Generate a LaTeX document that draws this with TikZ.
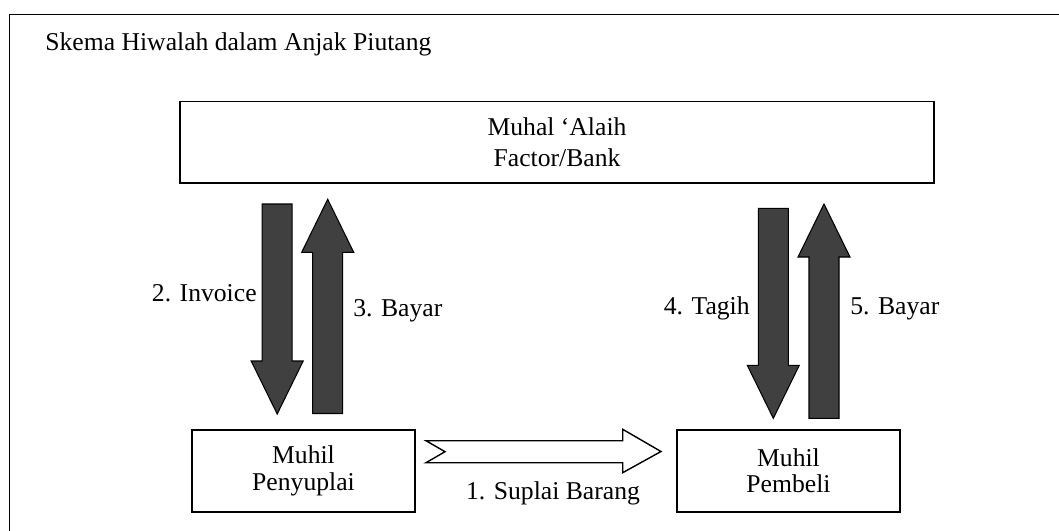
\documentclass[tikz,border=0pt]{standalone}
\usepackage{fontspec}
\setmainfont{Liberation Serif}
\usepackage{xcolor}
\definecolor{arrowGray}{RGB}{64,64,64}

% dark block arrows: centre x, tail y, tip y
\newcommand{\fatdown}[3]{%
  \draw[fatarrow] ({#1-15},{#2}) -- ({#1+15},{#2}) -- ({#1+15},{#3-53}) -- ({#1+26},{#3-53})
    -- ({#1},{#3}) -- ({#1-26},{#3-53}) -- ({#1-15},{#3-53}) -- cycle;}
\newcommand{\fatup}[3]{%
  \draw[fatarrow] ({#1-15},{#2}) -- ({#1+15},{#2}) -- ({#1+15},{#3+53}) -- ({#1+26},{#3+53})
    -- ({#1},{#3}) -- ({#1-26},{#3+53}) -- ({#1-15},{#3+53}) -- cycle;}

\begin{document}
\begin{tikzpicture}[x=0.02cm,y=-0.02cm,
    party/.style={draw,line width=0.8pt,align=center,minimum width=4.46cm,minimum height=1.64cm,
      font=\fontsize{14.6}{15}\selectfont},
    fatarrow/.style={draw=black,fill=arrowGray,line width=0.6pt,line join=miter},
    lbl/.style={font=\fontsize{14.6}{17}\selectfont,inner sep=0pt}]
  \useasboundingbox (0,0) rectangle (1059,531);
  % Frame
  \draw[line width=1.1pt] (9.5,600) -- (9.5,14.5) -- (1100,14.5);
  \node[lbl,anchor=base west] (title) at (45,50) {Skema Hiwalah dalam Anjak Piutang};

  % Factor
  \node[party,minimum width=15.08cm,minimum height=1.63cm,font=\fontsize{14.6}{17.4}\selectfont] (bank) at (557,142.4) {Muhal ‘Alaih\\Factor/Bank};

  % Seller and buyer
  \node[party] (seller) at (303.5,471) {Muhil\\Penyuplai};
  \node[party] (buyer) at (788.5,471) {Muhil\\Pembeli};

  % Supply of goods
  \draw[line width=0.8pt,fill=white] (426,440.7) -- (622.7,440.7) -- (622.7,429.3) -- (661,451.5)
    -- (622.7,472.7) -- (622.7,462.7) -- (426,462.7) -- (445,451.7) -- cycle;
  \node[lbl,anchor=base] (supply) at (553,499) {1. Suplai Barang};

  % Seller side
  \fatdown{277.2}{204}{414}
  \fatup{327.7}{413.5}{199.3}
  \node[lbl,anchor=base east] (invoice) at (257,301.7) {2. Invoice};
  \node[lbl,anchor=base west] (pay1) at (353,316) {3. Bayar};

  % Buyer side
  \fatdown{773.3}{208.3}{418.3}
  \fatup{824}{418.3}{204}
  \node[lbl,anchor=base east] (claim) at (750,314) {4. Tagih};
  \node[lbl,anchor=base west] (pay2) at (850,314) {5. Bayar};
\end{tikzpicture}
\end{document}
